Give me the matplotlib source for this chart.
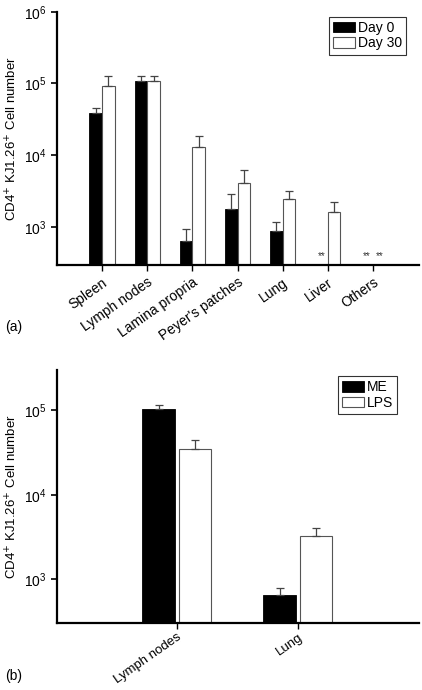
import matplotlib.pyplot as plt
import numpy as np

# panel (a)
organs_a = ["Spleen", "Lymph nodes", "Lamina propria", "Peyer's patches", "Lung", "Liver", "Others"]
day0 = [3.9e4, 1.07e5, 640, 1.77e3, 890, np.nan, np.nan]
day0_err = [0.7e4, 0.19e5, 290, 1.09e3, 270, np.nan, np.nan]
day30 = [9.2e4, 1.07e5, 1.3e4, 4.16e3, 2.43e3, 1.62e3, np.nan]
day30_err = [3.4e4, 0.22e5, 0.56e4, 2.04e3, 0.77e3, 0.58e3, np.nan]
# which bars were not detected (marked **)
nd_day0 = [False, False, False, False, False, True, True]
nd_day30 = [False, False, False, False, False, False, True]

# panel (b)
organs_b = ["Lymph nodes", "Lung"]
me = [1.02e5, 646]
me_err = [0.13e5, 144]
lps = [3.5e4, 3.26e3]
lps_err = [0.9e4, 0.84e3]

plt.rcParams['font.family'] = ['Liberation Sans', 'DejaVu Sans']

fig = plt.figure(figsize=(4.22, 6.90), dpi=100)
ax1 = fig.add_axes([0.135, 0.616, 0.858, 0.367])
ax2 = fig.add_axes([0.135, 0.097, 0.858, 0.367])


def style(ax):
    for s in ['top', 'right']:
        ax.spines[s].set_visible(False)
    for s in ['left', 'bottom']:
        ax.spines[s].set_linewidth(1.6)
    ax.set_yscale('log')
    ax.minorticks_off()
    ax.tick_params(axis='y', length=4, width=1.2, labelsize=10)
    ax.tick_params(axis='x', length=4, width=1.0, labelsize=10)
    ax.set_ylabel("CD4$^{+}$ KJ1.26$^{+}$ Cell number", fontsize=9.5, labelpad=3)


# --- (a)
x = np.arange(len(organs_a))
w = 0.28
ekw = dict(ecolor='#444444', elinewidth=0.9, capsize=3, capthick=0.9)
ax1.bar(x - w / 2, day0, w, color='black', edgecolor='black', linewidth=0.6, label='Day 0',
        yerr=[np.zeros(len(x)), day0_err], error_kw=ekw)
ax1.bar(x + w / 2, day30, w, color='white', edgecolor='#555555', linewidth=0.8, label='Day 30',
        yerr=[np.zeros(len(x)), day30_err], error_kw=ekw)
for i in range(len(x)):
    if nd_day0[i]:
        ax1.text(x[i] - w / 2, 390, "**", ha='center', va='center', fontsize=7, color='#333333')
    if nd_day30[i]:
        ax1.text(x[i] + w / 2, 390, "**", ha='center', va='center', fontsize=7, color='#333333')
style(ax1)
ax1.set_ylim(295, 1e6)
ax1.set_yticks([1e3, 1e4, 1e5, 1e6])
ax1.set_xlim(-1, 7.02)
ax1.set_xticks(x)
ax1.set_xticklabels(organs_a, rotation=35, ha='right', rotation_mode='anchor')
leg = ax1.legend(loc='upper right', bbox_to_anchor=(0.965, 0.98), fontsize=10, frameon=True,
                 fancybox=False, edgecolor='black', handlelength=1.6, handleheight=0.8,
                 handletextpad=0.2, borderpad=0.3, labelspacing=0.1, borderaxespad=0)
leg.get_frame().set_linewidth(0.8)
fig.text(0.012, 0.52, "(a)", fontsize=10)

# --- (b)
xb = np.arange(len(organs_b))
wb = 0.27
ax2.bar(xb - 0.15, me, wb, color='black', edgecolor='black', linewidth=0.6, label='ME',
        yerr=[np.zeros(len(xb)), me_err], error_kw=ekw)
ax2.bar(xb + 0.15, lps, wb, color='white', edgecolor='#555555', linewidth=0.8, label='LPS',
        yerr=[np.zeros(len(xb)), lps_err], error_kw=ekw)
style(ax2)
ax2.tick_params(axis='x', labelsize=9.5, pad=2)
ax2.set_ylim(305, 3e5)
ax2.set_yticks([1e3, 1e4, 1e5])
ax2.set_xlim(-0.99, 2.0)
ax2.set_xticks(xb)
ax2.set_xticklabels(organs_b, rotation=35, ha='right', rotation_mode='anchor')
leg2 = ax2.legend(loc='upper right', bbox_to_anchor=(0.94, 0.975), fontsize=10, frameon=True,
                  fancybox=False, edgecolor='black', handlelength=1.6, handleheight=0.8,
                  handletextpad=0.2, borderpad=0.3, labelspacing=0.1, borderaxespad=0)
leg2.get_frame().set_linewidth(0.8)
fig.text(0.012, 0.015, "(b)", fontsize=10)

fig.savefig("out.png", dpi=100)
